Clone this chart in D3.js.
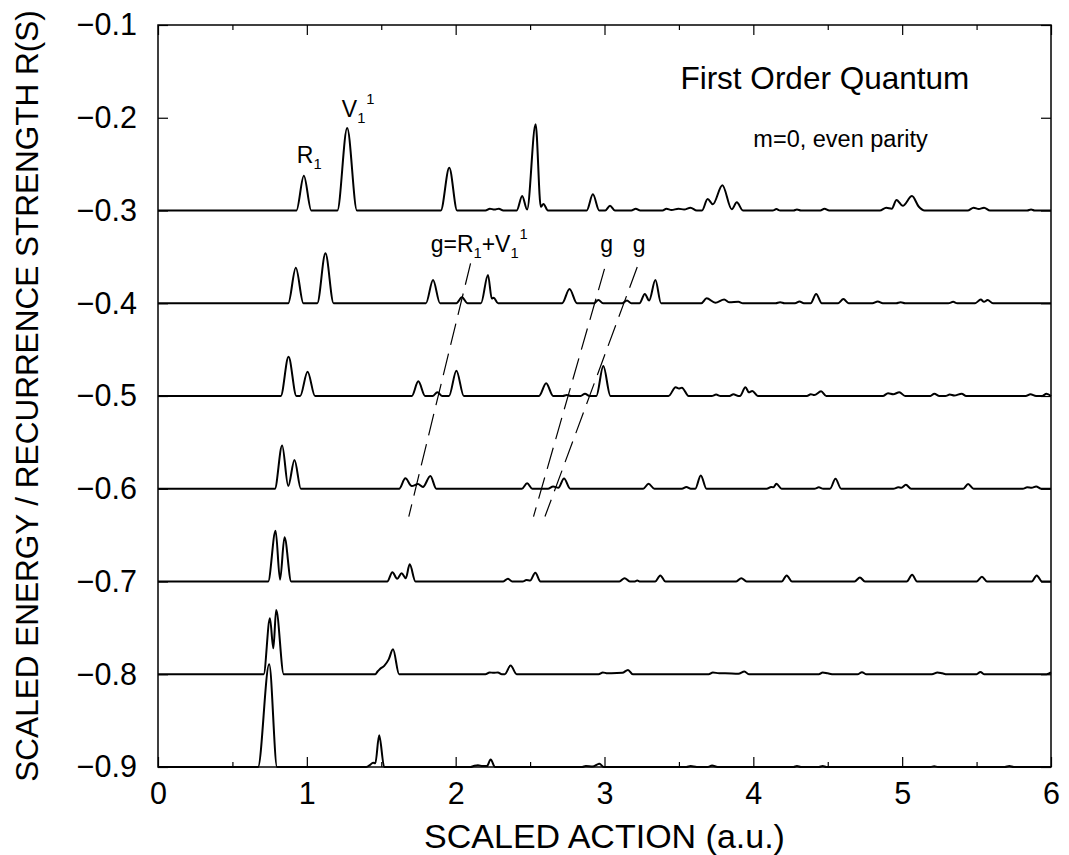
<!DOCTYPE html>
<html><head><meta charset="utf-8">
<script src="https://cdn.jsdelivr.net/npm/d3@7"></script>
<style>
body{margin:0;background:#fff}
svg{display:block}
text{font-family:"Liberation Sans",Arial,Helvetica,sans-serif;fill:#000}
</style>
</head><body>
<svg id="chart" width="1069" height="855"></svg>
<script>
// ---------- data ----------
const xTicks = [0, 1, 2, 3, 4, 5, 6];
const xMinorTicks = [0.5, 1.5, 2.5, 3.5, 4.5, 5.5];
const yTicks = [-0.9, -0.8, -0.7, -0.6, -0.5, -0.4, -0.3, -0.2, -0.1];
const energies = [-0.3, -0.4, -0.5, -0.6, -0.7, -0.8, -0.9];

// each spectrum: [scaled action, recurrence strength above its energy baseline]
const spec_m03 = [[0,0],
 [0.93,0],[0.98,0.0375],[1.03,0],
 [1.205,0],[1.271,0.089],[1.337,0],
 [1.90,0],[1.957,0.046],[2.01,0],
 [2.20,0],[2.23,0.002],[2.26,0.001],[2.29,0.002],[2.32,0],
 [2.41,0],[2.447,0.0156],[2.48,0.001],[2.537,0.093],[2.572,0.004],[2.59,0.007],[2.62,0],
 [2.88,0],[2.922,0.0175],[2.965,0],
 [3.005,0],[3.037,0.005],[3.07,0],
 [3.18,0],[3.21,0.002],[3.24,0],
 [3.39,0],[3.416,0.002],[3.45,0.0005],[3.497,0.002],[3.535,0.001],[3.578,0.003],[3.62,0],
 [3.655,0],[3.693,0.0124],[3.728,0.0067],[3.792,0.0272],[3.855,0.0013],[3.889,0.0088],[3.93,0],
 [4.13,0],[4.155,0.0015],[4.18,0],
 [4.27,0],[4.293,0.001],[4.32,0],
 [4.45,0],[4.478,0.002],[4.51,0],
 [4.85,0],[4.893,0.003],[4.93,0.002],[4.962,0.0113],[5.004,0.005],[5.066,0.0156],[5.112,0.004],[5.15,0],
 [5.44,0],[5.48,0.003],[5.515,0.0015],[5.55,0.003],[5.59,0],
 [5.84,0],[5.866,0.001],[5.89,0],
 [6,0]];

const spec_m04 = [[0,0],
 [0.875,0],[0.926,0.0383],[0.977,0],
 [1.07,0],[1.125,0.0538],[1.18,0],
 [1.80,0],[1.848,0.025],[1.895,0],
 [2.005,0],[2.042,0.0064],[2.08,0],
 [2.17,0],[2.217,0.0305],[2.243,0.005],[2.255,0.006],[2.285,0],
 [2.715,0],[2.765,0.0154],[2.815,0],
 [2.93,0],[2.959,0.0035],[2.99,0],
 [3.12,0],[3.151,0.003],[3.18,0],
 [3.235,0],[3.271,0.01],[3.3,0.003],[3.342,0.025],[3.38,0],
 [3.65,0],[3.686,0.0053],[3.745,0.0005],[3.804,0.004],[3.84,0.001],[3.90,0.0015],[3.93,0],
 [4.15,0],[4.18,0.001],[4.21,0],
 [4.28,0],[4.31,0.002],[4.34,0],
 [4.385,0],[4.422,0.01],[4.46,0],
 [4.57,0],[4.605,0.0045],[4.64,0],
 [4.80,0],[4.836,0.002],[4.87,0],
 [4.96,0],[4.99,0.001],[5.02,0],
 [5.31,0],[5.343,0.0015],[5.37,0],
 [5.49,0],[5.528,0.004],[5.55,0.0015],[5.574,0.0035],[5.61,0],
 [6,0]];

const spec_m05 = [[0,0],
 [0.825,0],[0.877,0.0424],[0.93,0],
 [0.955,0],[1.005,0.0262],[1.055,0],
 [1.705,0],[1.749,0.0158],[1.795,0],
 [1.845,0],[1.877,0.004],[1.91,0],
 [1.955,0],[2.005,0.0273],[2.055,0],
 [2.56,0],[2.608,0.0137],[2.655,0],
 [2.72,0],[2.747,0.001],[2.775,0],
 [2.84,0],[2.869,0.0025],[2.90,0],
 [2.945,0],[2.992,0.0323],[3.04,0],
 [3.43,0],[3.478,0.0094],[3.50,0.008],[3.52,0.009],[3.565,0],
 [3.72,0],[3.75,0.0015],[3.78,0],
 [3.84,0],[3.866,0.002],[3.90,0],
 [3.91,0],[3.947,0.0094],[3.97,0.004],[3.993,0.0055],[4.03,0],
 [4.36,0],[4.386,0.002],[4.41,0.001],[4.455,0.005],[4.49,0],
 [4.87,0],[4.905,0.003],[4.94,0.002],[4.981,0.004],[5.02,0],
 [5.19,0],[5.216,0.0025],[5.25,0],
 [5.29,0],[5.32,0.0015],[5.35,0.0005],[5.40,0.0025],[5.43,0],
 [5.83,0],[5.862,0.002],[5.90,0],
 [5.94,0],[5.97,0.0025],[6,0]];

const spec_m06 = [[0,0],
 [0.785,0],[0.834,0.0467],[0.875,0.003],[0.917,0.031],[0.96,0],
 [1.62,0],[1.662,0.0112],[1.705,0.003],[1.747,0.005],[1.78,0.002],[1.83,0.0137],[1.87,0],
 [2.445,0],[2.48,0.006],[2.515,0],
 [2.62,0],[2.655,0.0025],[2.69,0.001],[2.728,0.011],[2.77,0],
 [3.26,0],[3.296,0.0054],[3.335,0],
 [3.52,0],[3.55,0.002],[3.58,0],
 [3.61,0],[3.647,0.0144],[3.685,0],
 [4.09,0],[4.12,0.002],[4.135,0.0015],[4.155,0.0054],[4.19,0],
 [4.41,0],[4.44,0.0015],[4.47,0],
 [4.515,0],[4.552,0.0108],[4.59,0],
 [4.94,0],[4.974,0.0015],[4.995,0.001],[5.025,0.0043],[5.06,0],
 [5.41,0],[5.443,0.005],[5.48,0],
 [5.81,0],[5.84,0.0015],[5.87,0.001],[5.90,0.0025],[5.935,0],
 [6,0]];

const spec_m07 = [[0,0],
 [0.74,0],[0.79,0.0548],[0.82,0.002],[0.85,0.0476],[0.895,0],
 [1.54,0],[1.575,0.0099],[1.607,0.003],[1.637,0.009],[1.665,0.0036],[1.691,0.0185],[1.73,0],
 [2.32,0],[2.351,0.003],[2.38,0],
 [2.45,0],[2.475,0.0015],[2.50,0.001],[2.535,0.0095],[2.57,0],
 [3.10,0],[3.135,0.0036],[3.17,0],
 [3.20,0],[3.22,0.001],[3.24,0],
 [3.34,0],[3.375,0.0065],[3.41,0],
 [3.885,0],[3.919,0.0036],[3.955,0],
 [4.19,0],[4.224,0.0065],[4.26,0],
 [4.68,0],[4.716,0.0043],[4.75,0],
 [5.03,0],[5.067,0.0072],[5.10,0],
 [5.50,0],[5.536,0.005],[5.57,0],
 [5.87,0],[5.904,0.0065],[5.94,0],
 [6,0]];

const spec_m08 = [[0,0],
 [0.71,0],[0.752,0.0603],[0.775,0.028],[0.794,0.0693],[0.845,0],
 [1.46,0],[1.475,0.003],[1.49,0.0055],[1.52,0.009],[1.55,0.016],[1.579,0.0269],[1.62,0],
 [2.20,0],[2.228,0.002],[2.256,0.0015],[2.284,0.002],[2.31,0],
 [2.33,0],[2.369,0.0093],[2.41,0],
 [2.96,0],[2.989,0.002],[3.02,0.001],[3.047,0.001],[3.12,0.0015],[3.158,0.0047],[3.19,0],
 [3.70,0],[3.728,0.002],[3.77,0.001],[3.81,0.001],[3.90,0.0005],[3.94,0.003],[3.97,0],
 [4.44,0],[4.466,0.002],[4.50,0.001],[4.54,0],
 [4.70,0],[4.73,0.0022],[4.76,0],
 [5.20,0],[5.237,0.002],[5.27,0.001],[5.30,0],
 [5.50,0],[5.526,0.0025],[5.55,0],
 [5.97,0],[6,0.002]];

const spec_m09 = [[0,0],
 [0.672,0],[0.747,0.1107],[0.80,0],
 [1.40,0],[1.423,0.002],[1.445,0.0045],[1.46,0.004],[1.486,0.0342],[1.52,0],
 [2.10,0],[2.12,0.001],[2.15,0.002],[2.18,0.001],[2.21,0.001],[2.235,0.008],[2.265,0],
 [2.85,0],[2.874,0.001],[2.92,0.0005],[2.966,0.0036],[2.995,0],
 [3.55,0],[3.578,0.001],[3.62,0],[3.69,0],[3.723,0.0015],[3.76,0],
 [4.27,0],[4.293,0.001],[4.32,0],[4.44,0],[4.466,0.001],[4.49,0],
 [5.19,0],[5.215,0.0008],[5.24,0],[5.69,0],[5.72,0.0012],[5.75,0],
 [6,0]];

const spectra = [spec_m03, spec_m04, spec_m05, spec_m06, spec_m07, spec_m08, spec_m09];

// dashed guide lines g (action, energy) start -> end
const guideStart = [[2.10, -0.357], [3.00, -0.363], [3.22, -0.361]];
const guideEnd   = [[1.685, -0.630], [2.523, -0.630], [2.60, -0.630]];

// ---------- drawing ----------
const svg = d3.select("#chart");
const x = d3.scaleLinear().domain([0, 6]).range([158, 1051]);
const y = d3.scaleLinear().domain([-0.9, -0.1]).range([767, 25]);
const FONT = '"Liberation Sans",Arial,Helvetica,sans-serif';

const line = d3.line().curve(d3.curveMonotoneX);

spectra.forEach((s, i) => {
  const e = energies[i];
  svg.append("path")
    .attr("d", line(s.map(p => [x(p[0]), y(e + p[1])])))
    .attr("fill", "none").attr("stroke", "#000").attr("stroke-width", 2)
    .attr("stroke-linejoin", "round");
});

guideStart.forEach((s, i) => {
  const t = guideEnd[i];
  svg.append("line")
    .attr("x1", x(s[0])).attr("y1", y(s[1]))
    .attr("x2", x(t[0])).attr("y2", y(t[1]))
    .attr("stroke", "#000").attr("stroke-width", 1.2)
    .attr("stroke-dasharray", "22,9");
});

// frame
svg.append("rect").attr("x", x(0)).attr("y", y(-0.1))
  .attr("width", x(6) - x(0)).attr("height", y(-0.9) - y(-0.1))
  .attr("fill", "none").attr("stroke", "#000").attr("stroke-width", 1.5);

function styleAxis(g) {
  g.select(".domain").remove();
  g.selectAll("line").attr("stroke", "#000").attr("stroke-width", 1.2);
}

// bottom axis with labels
const gB = svg.append("g").attr("transform", `translate(0,${y(-0.9)})`)
  .call(d3.axisBottom(x).tickValues(xTicks).tickSize(-10).tickPadding(15).tickFormat(d3.format("d")));
styleAxis(gB);
gB.selectAll("text").attr("font-family", FONT).attr("font-size", 30.5).attr("fill", "#000");
svg.append("g").attr("transform", `translate(0,${y(-0.9)})`)
  .call(d3.axisBottom(x).tickValues(xMinorTicks).tickSize(-5).tickFormat(""))
  .call(styleAxis);
// top axis
svg.append("g").attr("transform", `translate(0,${y(-0.1)})`)
  .call(d3.axisTop(x).tickValues(xTicks).tickSize(-10).tickFormat(""))
  .call(styleAxis);
svg.append("g").attr("transform", `translate(0,${y(-0.1)})`)
  .call(d3.axisTop(x).tickValues(xMinorTicks).tickSize(-5).tickFormat(""))
  .call(styleAxis);
// left axis with labels
const gL = svg.append("g").attr("transform", `translate(${x(0)},0)`)
  .call(d3.axisLeft(y).tickValues(yTicks).tickSize(-10).tickPadding(21).tickFormat(d3.format(".1f")));
styleAxis(gL);
gL.selectAll("text").attr("font-family", FONT).attr("font-size", 30.5).attr("fill", "#000");
// right axis
svg.append("g").attr("transform", `translate(${x(6)},0)`)
  .call(d3.axisRight(y).tickValues(yTicks).tickSize(-10).tickFormat(""))
  .call(styleAxis);

// axis titles
svg.append("text").attr("x", (x(0) + x(6)) / 2).attr("y", 848)
  .attr("text-anchor", "middle").attr("font-size", 34)
  .text("SCALED ACTION (a.u.)");
svg.append("text").attr("transform", `translate(38,${(y(-0.1) + y(-0.9)) / 2}) rotate(-90)`)
  .attr("text-anchor", "middle").attr("font-size", 31.5)
  .text("SCALED ENERGY / RECURRENCE STRENGTH R(S)");

// annotations
svg.append("text").attr("x", x(3.51)).attr("y", y(-0.169)).attr("font-size", 31.5)
  .text("First Order Quantum");
svg.append("text").attr("x", x(4.0)).attr("y", y(-0.2312)).attr("font-size", 23.5)
  .text("m=0, even parity");

function label(ax, ey, parts, fs) {
  const t = svg.append("text").attr("x", x(ax)).attr("y", y(ey)).attr("font-size", fs);
  let cur = 0;
  parts.forEach(p => {
    const sp = t.append("tspan").text(p[0]);
    const target = p[1] === "sub" ? 6 : p[1] === "sup" ? -13 : 0;
    sp.attr("dy", target - cur);
    if (p[1] !== "n") sp.attr("font-size", fs * 0.64);
    if (p[1] === "sup") sp.attr("dx", 2);
    cur = target;
  });
}
label(0.933, -0.2488, [["R","n"],["1","sub"]], 23);
label(1.235, -0.1992, [["V","n"],["1","sub"],["1","sup"]], 23);
label(1.832, -0.3447, [["g=R","n"],["1","sub"],["+V","n"],["1","sub"],["1","sup"]], 23);
label(2.972, -0.3447, [["g","n"]], 23);
label(3.19, -0.3447, [["g","n"]], 23);
</script>
</body></html>
